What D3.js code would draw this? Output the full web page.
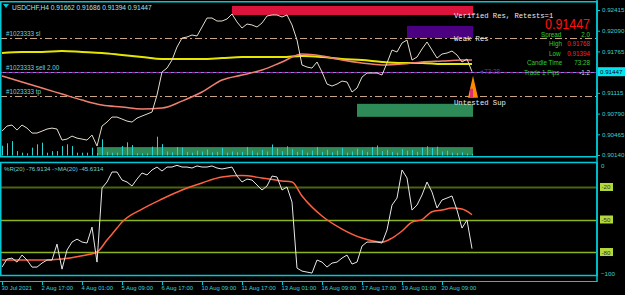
<!DOCTYPE html>
<html>
<head>
<meta charset="utf-8">
<script src="https://cdn.jsdelivr.net/npm/d3@7"></script>
<style>
  body { margin: 0; background: #000; }
  svg { display: block; font-family: "Liberation Sans", Arial, sans-serif; }
</style>
</head>
<body>
<svg width="625" height="295"></svg>
<script>
// USDCHF H4 closes, one per bar
const closes = [
  0.90515, 0.90594, 0.90610, 0.90531, 0.90610, 0.90562, 0.90484, 0.90484, 0.90515, 0.90547,
  0.90562, 0.90547, 0.90374, 0.90390, 0.90437, 0.90405, 0.90390, 0.90374, 0.90453, 0.90280,
  0.90594, 0.90657, 0.90735, 0.90735, 0.90704, 0.90672, 0.90657, 0.90719, 0.90751, 0.90782,
  0.90814, 0.91081, 0.91442, 0.91504, 0.91630, 0.91834, 0.91975, 0.91991, 0.92023, 0.92007,
  0.92148, 0.92289, 0.92289, 0.92242, 0.92242, 0.92274, 0.92352, 0.92227, 0.92132, 0.92195,
  0.92180, 0.92148, 0.92211, 0.92321, 0.92337, 0.92337, 0.92305, 0.92337, 0.92180, 0.91944,
  0.91552, 0.91520, 0.91504, 0.91599, 0.91442, 0.91253, 0.91222, 0.91253, 0.91300, 0.91285,
  0.91128, 0.91190, 0.91363, 0.91426, 0.91426, 0.91426, 0.91395, 0.91583, 0.91787, 0.91756,
  0.91897, 0.91944, 0.91630, 0.91677, 0.91803, 0.91913, 0.91787, 0.91661, 0.91724, 0.91740,
  0.91771, 0.91709, 0.91599, 0.91646, 0.91447
];
const volumes = [
  49, 61, 72, 22, 14, 11, 39, 56, 64, 14, 22, 22, 47, 56, 47, 14, 14, 14, 39, 12,
  81, 19, 14, 14, 47, 66, 52, 11, 11, 11, 44, 94,
  57, 20, 16, 42, 40, 18, 14, 24, 20, 30, 16, 18, 38, 14, 20, 16,
  18, 42, 24, 14, 28, 20, 55, 36, 22, 46, 32, 18, 28, 14, 24, 42,
  18, 28, 16, 24, 38, 14, 20, 34, 26, 18, 42, 50, 22, 28, 18, 14,
  32, 24, 28, 18, 40, 46, 38, 44, 20, 24, 14, 12, 16, 10, 8
];
// moving averages read every 4 bars
const maBars = [0, 4, 8, 12, 16, 20, 24, 28, 32, 36, 40, 44, 48, 52, 56, 60, 64, 68, 72, 76, 80, 84, 88, 92, 94];
const fastMa = [
  0.91379, 0.91285, 0.91190, 0.91096, 0.91002, 0.90924, 0.90892, 0.90861, 0.90876, 0.90986,
  0.91128, 0.91316, 0.91395, 0.91473, 0.91599, 0.91724, 0.91693, 0.91630, 0.91583, 0.91552,
  0.91567, 0.91599, 0.91614, 0.91630, 0.91630
];
const slowMa = [
  0.91740, 0.91756, 0.91756, 0.91771, 0.91756, 0.91740, 0.91709, 0.91677, 0.91646, 0.91646,
  0.91646, 0.91661, 0.91677, 0.91677, 0.91677, 0.91693, 0.91677, 0.91646, 0.91630, 0.91599,
  0.91583, 0.91583, 0.91567, 0.91567, 0.91567
];
// Williams %R(20) and its MA(20)
const pctR = [
  -93.9, -86.5, -85.6, -89.3, -82.8, -87.4, -93.9, -93.9, -90.2, -87.4,
  -87.4, -72.7, -95.8, -78.2, -70.8, -68.1, -70.8, -71.7, -57.0, -89.3,
  -20.9, -15.4, -6.2, -6.2, -13.6, -15.4, -19.1, -12.7, -7.1, -8.9,
  -4.3, -1.6, -5.3, -1.6, -1.6, 0, -1.6, -1.6, -2.5, -0.6,
  -1.6, -1.6, -0.6, -2.5, -3.4, -2.5, -1.6, -9.9, -15.4, -12.7,
  -13.6, -18.2, -22.8, -19.1, -9.9, -10.8, -22.8, -20.0, -33.9, -94.8,
  -97.6, -98.5, -99.4, -87.4, -89.3, -93.9, -90.2, -89.3, -85.6, -82.8,
  -91.1, -89.3, -74.5, -70.8, -70.8, -70.8, -71.7, -59.7, -36.7, -30.2,
  -4.3, -11.7, -41.3, -36.7, -27.4, -15.4, -24.7, -39.4, -32.0, -30.2,
  -28.3, -41.3, -57.9, -50.5, -76.9
];
const pctRMaBars = [0, 4, 8, 12, 16, 19, 21, 23, 24, 28, 32, 36, 40, 44, 48, 52, 56, 58, 60, 64, 68, 72, 76, 78, 80, 82, 84, 86, 88, 90, 92, 94];
const pctRMa = [
  -87.4, -87.4, -87.4, -86.5, -83.5, -80.0, -69.0, -57.9, -52.4, -40.4,
  -31.1, -22.8, -16.3, -10.8, -9.5, -11.7, -14.5, -15.4, -28.3, -46.8,
  -58.8, -67.1, -70.8, -67.1, -60.6, -52.4, -50.1, -42.8, -41.3, -39.4,
  -40.4, -45.6
];

const priceTicks = [0.92415, 0.92090, 0.91765, 0.91115, 0.90790, 0.90465, 0.90140];
const lastPrice = 0.91447;
const rTicks = [0, -100];
const rLevels = [-20, -50, -80];
const timeBars = [0, 8, 16, 24, 32, 40, 48, 56, 64, 72, 80, 88];
const timeLabels = ["30 Jul 2021", "2 Aug 17:00", "4 Aug 01:00", "5 Aug 09:00", "6 Aug 17:00", "10 Aug 09:00",
  "11 Aug 17:00", "13 Aug 01:00", "16 Aug 09:00", "17 Aug 17:00", "19 Aug 01:00", "20 Aug 09:00"];

const orderPrices = [0.91975, 0.91447, 0.91065];
const orderLabels = ["#1023333 sl", "#1023333 sell 2.00", "#1023333 tp"];

const zoneLabels = ["Verified Res, Retests=1", "Weak Res", "Untested Sup"];
const zoneStart = [46, 81, 71];
const zoneTop = [0.92478, 0.92164, 0.90943];
const zoneBottom = [0.92337, 0.91975, 0.90739];
const volZoneStart = 19;
const volZoneTop = 42;

const infoLabels = ["Spread", "High", "Low", "Candle Time", "Trade 1 Pips"];
const infoValues = ["2.0", "0.91768", "0.91394", "73:28", "-1.2"];

const svg = d3.select("svg");
const cyan = "#00c8d6";
const axisX = 597;

const x = d3.scaleLinear().domain([0, 94]).range([2, 472]);
const y = d3.scaleLinear().domain([0.90140, 0.92415]).range([155, 10]);
const yVol = d3.scaleLinear().domain([0, 100]).range([155.5, 135.5]);
const yR = d3.scaleLinear().domain([-100, 0]).range([273.7, 165.3]);

// zones
const zoneFill = ["#dc143c", "#4b0082", "#2e8b57"];
svg.selectAll(".zone")
  .data(zoneLabels)
  .enter().append("rect")
  .attr("class", "zone")
  .attr("x", (d, i) => x(zoneStart[i]))
  .attr("y", (d, i) => y(zoneTop[i]))
  .attr("width", (d, i) => x(94) + 1 - x(zoneStart[i]))
  .attr("height", (d, i) => y(zoneBottom[i]) - y(zoneTop[i]))
  .attr("fill", (d, i) => zoneFill[i]);

svg.append("rect")
  .attr("x", x(volZoneStart))
  .attr("y", yVol(volZoneTop))
  .attr("width", x(94) + 1 - x(volZoneStart))
  .attr("height", yVol(0) - yVol(volZoneTop))
  .attr("fill", "#2e8b57");

// order lines
orderPrices.forEach((p, i) => {
  const yy = Math.round(y(p)) + 0.5;
  if (i == 1) {
    svg.append("line").attr("x1", 0).attr("x2", axisX).attr("y1", yy).attr("y2", yy)
      .attr("stroke", "#7890d0").attr("stroke-width", 1);
    svg.append("line").attr("x1", 0).attr("x2", axisX).attr("y1", yy).attr("y2", yy)
      .attr("stroke", "#9a2aa8").attr("stroke-width", 1).attr("stroke-dasharray", "3,3");
  } else {
    svg.append("line").attr("x1", 0).attr("x2", axisX).attr("y1", yy).attr("y2", yy)
      .attr("stroke", "#c8a482").attr("stroke-width", 1).attr("stroke-dasharray", "7,3,2,3");
  }
  svg.append("text").attr("x", 6).attr("y", yy - 2.5)
    .attr("fill", "#6fd0dc").attr("font-size", 6.3).text(orderLabels[i]);
});

// moving averages
const maLine = d3.line().x((d, i) => x(maBars[i])).y(d => y(d)).curve(d3.curveMonotoneX);
svg.append("path").datum(slowMa).attr("d", maLine)
  .attr("fill", "none").attr("stroke", "#e6e600").attr("stroke-width", 2);
svg.append("path").datum(fastMa).attr("d", maLine)
  .attr("fill", "none").attr("stroke", "#f08070").attr("stroke-width", 1.5);

// volumes
svg.selectAll(".vol")
  .data(volumes)
  .enter().append("line")
  .attr("class", "vol")
  .attr("x1", (d, i) => Math.round(x(i)) + 0.5)
  .attr("x2", (d, i) => Math.round(x(i)) + 0.5)
  .attr("y1", yVol(0))
  .attr("y2", d => yVol(d))
  .attr("stroke", "#26d4d4").attr("stroke-width", 1);

// close line
svg.append("path").datum(closes)
  .attr("d", d3.line().x((d, i) => x(i)).y(d => y(d)))
  .attr("fill", "none").attr("stroke", "#e4dccc").attr("stroke-width", 1);

// zone captions
const zoneTextY = [18, 41, 105];
svg.selectAll(".zlab")
  .data(zoneLabels)
  .enter().append("text")
  .attr("class", "zlab")
  .attr("x", 454)
  .attr("y", (d, i) => zoneTextY[i])
  .attr("font-family", "'Liberation Mono', monospace")
  .attr("font-size", 7.2)
  .attr("fill", "#ececec")
  .text(d => d);

// arrow under the last bar
svg.append("path")
  .attr("d", `M${x(94) + 1},${y(lastPrice) + 4} L${x(94) + 6},${y(lastPrice) + 26} L${x(94) - 4},${y(lastPrice) + 26} Z`)
  .attr("fill", "#ff8c00");
svg.append("rect").attr("x", x(94) - 2).attr("y", y(lastPrice) + 17).attr("width", 3).attr("height", 9)
  .attr("fill", "#e0306a");
svg.append("text").attr("x", 478).attr("y", y(lastPrice) + 2.5)
  .attr("fill", "#5a3ab4").attr("font-size", 6.3).text("\u25C473:28");

// info panel
svg.append("text").attr("x", 590).attr("y", 29).attr("text-anchor", "end")
  .attr("fill", "#ff1010").attr("font-size", 14.5)
  .attr("textLength", 45).attr("lengthAdjust", "spacingAndGlyphs")
  .text(d3.format(".5f")(lastPrice));
const infoX = [541, 549, 549, 527, 524];
const infoValColor = ["#32cd32", "#ff2020", "#ff2020", "#32cd32", "#d8d8d8"];
infoLabels.forEach((lab, i) => {
  const yy = 37 + i * 9.4;
  svg.append("text").attr("x", infoX[i]).attr("y", yy)
    .attr("fill", "#32cd32").attr("font-size", 6.3).text(lab);
  svg.append("text").attr("x", 590).attr("y", yy).attr("text-anchor", "end")
    .attr("fill", infoValColor[i]).attr("font-size", 6.3).text(infoValues[i]);
});

// title
svg.append("path").attr("d", "M3,4 L9,4 L6,8 Z").attr("fill", cyan);
svg.append("text").attr("x", 12).attr("y", 9.5)
  .attr("fill", "#a8e4ee").attr("font-size", 6.6)
  .text("USDCHF,H4  0.91662 0.91686 0.91394 0.91447");

// %R pane
const levelColor = ["#4c6410", "#8cb41e", "#8cb41e"];
rLevels.forEach((lv, i) => {
  svg.append("line").attr("x1", 0).attr("x2", axisX)
    .attr("y1", Math.round(yR(lv)) + 0.5).attr("y2", Math.round(yR(lv)) + 0.5)
    .attr("stroke", levelColor[i]).attr("stroke-width", i == 0 ? 2 : 1.3);
});
svg.append("path").datum(pctRMa)
  .attr("d", d3.line().x((d, i) => x(pctRMaBars[i])).y(d => yR(d)).curve(d3.curveMonotoneX))
  .attr("fill", "none").attr("stroke", "#ff6040").attr("stroke-width", 1.5);
svg.append("path").datum(pctR)
  .attr("d", d3.line().x((d, i) => x(i)).y(d => yR(d)))
  .attr("fill", "none").attr("stroke", "#e8e8e8").attr("stroke-width", 1);
svg.append("text").attr("x", 4).attr("y", 171)
  .attr("fill", "#6fd0dc").attr("font-size", 6.1)
  .text("%R(20) -76.9134  ->MA(20) -45.6314");

// frames
svg.append("rect").attr("x", 0.75).attr("y", 1.75).attr("width", axisX - 0.75).attr("height", 155)
  .attr("fill", "none").attr("stroke", cyan).attr("stroke-width", 1.5);
svg.append("rect").attr("x", 0.75).attr("y", 162.5).attr("width", axisX - 0.75).attr("height", 113)
  .attr("fill", "none").attr("stroke", cyan).attr("stroke-width", 1.5);
svg.append("line").attr("x1", 0).attr("x2", axisX).attr("y1", 281.5).attr("y2", 281.5)
  .attr("stroke", cyan).attr("stroke-width", 1);
svg.append("line").attr("x1", axisX).attr("x2", axisX).attr("y1", 0).attr("y2", 282)
  .attr("stroke", cyan).attr("stroke-width", 1.5);

// price axis
const priceAxis = svg.append("g").attr("transform", `translate(${axisX},0)`)
  .call(d3.axisRight(y).tickValues(priceTicks).tickFormat(d3.format(".5f")).tickSize(3).tickPadding(2));
priceAxis.select(".domain").remove();
priceAxis.selectAll("line").attr("stroke", cyan);
priceAxis.selectAll("text").attr("fill", "#3cd0dc").attr("font-size", 6.2)
  .attr("font-family", "'Liberation Sans', Arial, sans-serif");

svg.append("rect").attr("x", axisX + 1).attr("y", y(lastPrice) - 4.5).attr("width", 27).attr("height", 9)
  .attr("fill", "#00e6f0");
svg.append("text").attr("x", axisX + 3).attr("y", y(lastPrice) + 2.5)
  .attr("fill", "#000").attr("font-size", 6.2).text(d3.format(".5f")(lastPrice));

// %R axis
const rAxis = svg.append("g").attr("transform", `translate(${axisX},0)`)
  .call(d3.axisRight(yR).tickValues(rTicks).tickFormat(d3.format("d")).tickSize(0).tickPadding(4));
rAxis.select(".domain").remove();
rAxis.selectAll("text").attr("fill", "#3cd0dc").attr("font-size", 6.2)
  .attr("font-family", "'Liberation Sans', Arial, sans-serif");
rLevels.forEach(lv => {
  svg.append("rect").attr("x", axisX + 3).attr("y", yR(lv) - 4).attr("width", 13).attr("height", 8)
    .attr("fill", "#b4d83c");
  svg.append("text").attr("x", axisX + 4.5).attr("y", yR(lv) + 2.5)
    .attr("fill", "#333").attr("font-size", 6.2).text(lv);
});

// time axis
const timeAxis = svg.append("g").attr("transform", "translate(0,282)")
  .call(d3.axisBottom(x).tickValues(timeBars).tickFormat((d, i) => timeLabels[i]).tickSize(3).tickPadding(1));
timeAxis.select(".domain").remove();
timeAxis.selectAll("line").attr("stroke", cyan);
timeAxis.selectAll("text").attr("fill", "#3cd0dc").attr("font-size", 5.9)
  .attr("text-anchor", "start").attr("dx", -1)
  .attr("font-family", "'Liberation Sans', Arial, sans-serif");
</script>
</body>
</html>
